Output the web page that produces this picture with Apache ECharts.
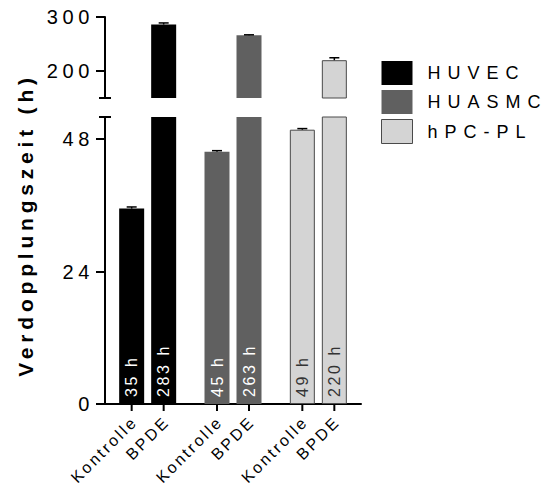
<!DOCTYPE html>
<html>
<head>
<meta charset="utf-8">
<script src="https://cdn.jsdelivr.net/npm/echarts@6/dist/echarts.min.js"></script>
<style>
	body { margin: 0; background: #fff; }
	#main { width: 548px; height: 485px; }
</style>
</head>
<body>
<div id="main"></div>
<script>
// Werte
var groups = ['HUVEC', 'HUASMC', 'hPC-PL'];
var conditions = ['Kontrolle', 'BPDE'];
var kontrolle = [35.4, 45.7, 49.7];
var kontrolleErr = [0.3, 0.2, 0.2];
var bpde = [286, 266, 220];
var bpdeErr = [3, 1, 4.5];
var kontrolleText = ['35 h', '45 h', '49 h'];
var bpdeText = ['283 h', '263 h', '220 h'];
var upperTicks = [200, 300];
var lowerTicks = [0, 24, 48];

var colors = ['#000000', '#606060', '#d4d4d4'];
var labelColors = ['#ffffff', '#ffffff', '#333333'];
var borderColors = ['#000000', '#606060', '#4a4a4a'];
var fontName = '"Liberation Sans", Arial, sans-serif';

var barWidth = 25;
var barGapPx = 7;
var offset = (barWidth + barGapPx) / 2;

// Sperrung der Schrift (wie im Original) je Schriftgroesse
var spacing = {16: 2.6, 18: 7, 20: 4.6, 21: 4.8};

function barData(values, texts) {
	return values.map(function (v, i) {
		return {
			value: v,
			itemStyle: {color: colors[i], borderColor: borderColors[i], borderWidth: i == 2 ? 1 : 0},
			label: {formatter: texts[i], color: labelColors[i]}
		};
	});
}

var errData = [];
for (var i = 0; i < groups.length; i++) {
	errData.push([i, kontrolle[i], kontrolleErr[i], -1]);
	errData.push([i, bpde[i], bpdeErr[i], 1]);
}

var tickData = [];
for (var i = 0; i < groups.length; i++) {
	for (var j = 0; j < conditions.length; j++) {
		tickData.push([i, j]);
	}
}

function renderError(params, api) {
	var cat = api.value(0), mean = api.value(1), err = api.value(2), side = api.value(3);
	var p0 = api.coord([cat, mean]);
	var p1 = api.coord([cat, mean + err]);
	var x = p0[0] + side * offset;
	var st = {stroke: '#000', lineWidth: 1.5};
	return {
		type: 'group',
		children: [
			{type: 'line', shape: {x1: x, y1: p0[1], x2: x, y2: p1[1]}, style: st},
			{type: 'line', shape: {x1: x - 5, y1: p1[1], x2: x + 5, y2: p1[1]}, style: st}
		]
	};
}

function renderTick(params, api) {
	var cat = api.value(0), j = api.value(1);
	var base = api.coord([cat, 0]);
	var x = base[0] + (j == 0 ? -1 : 1) * offset;
	return {
		type: 'group',
		children: [
			{type: 'line', shape: {x1: x, y1: base[1], x2: x, y2: base[1] + 7}, style: {stroke: '#000', lineWidth: 2}},
			{
				type: 'text', x: x + 3, y: base[1] + 15, rotation: Math.PI / 4,
				style: {text: conditions[j], font: '16px ' + fontName, fill: '#000', align: 'right', verticalAlign: 'middle'}
			}
		]
	};
}

// kleiner Querstrich an der Achsenunterbrechung
function breakMark(atTop) {
	return function (params, api) {
		var cs = params.coordSys;
		var y = atTop ? cs.y : cs.y + cs.height;
		return {type: 'line', shape: {x1: cs.x - 6, y1: y, x2: cs.x + 6, y2: y}, style: {stroke: '#000', lineWidth: 2}};
	};
}

function valueAxis(gridIndex, min, max, ticks) {
	return {
		type: 'value', gridIndex: gridIndex, min: min, max: max,
		axisLine: {show: true, lineStyle: {color: '#000', width: 2}},
		axisTick: {show: true, customValues: ticks, length: 9, lineStyle: {color: '#000', width: 2}},
		axisLabel: {customValues: ticks, fontSize: 20, fontFamily: fontName, color: '#000', margin: 11, padding: [5, 0, 0, 0]},
		splitLine: {show: false}
	};
}

function barLabel(show) {
	return {
		show: show, position: 'insideBottom', distance: 7, rotate: 90,
		align: 'left', verticalAlign: 'middle', fontSize: 16, fontFamily: fontName
	};
}

var series = [];
for (var g = 0; g < 2; g++) {
	series.push({
		type: 'bar', name: 'Kontrolle', xAxisIndex: g, yAxisIndex: g,
		barWidth: barWidth, barGap: (barGapPx / barWidth * 100) + '%',
		data: barData(kontrolle, kontrolleText), label: barLabel(g == 1), clip: true
	});
	series.push({
		type: 'bar', name: 'BPDE', xAxisIndex: g, yAxisIndex: g,
		barWidth: barWidth,
		data: barData(bpde, bpdeText), label: barLabel(g == 1), clip: true
	});
	series.push({
		type: 'custom', xAxisIndex: g, yAxisIndex: g, renderItem: renderError,
		data: errData, clip: true, z: 5
	});
	series.push({
		type: 'custom', xAxisIndex: g, yAxisIndex: g, renderItem: breakMark(g == 1),
		data: [[0, 0]], clip: false, z: 5
	});
}
series.push({
	type: 'custom', xAxisIndex: 1, yAxisIndex: 1, renderItem: renderTick,
	data: tickData, clip: false, z: 5
});
// nur fuer die Legende
groups.forEach(function (name, i) {
	series.push({
		type: 'custom', name: name, xAxisIndex: 1, yAxisIndex: 1,
		renderItem: function () { return null; }, data: [],
		itemStyle: {color: colors[i]}
	});
});

var option = {
	animation: false,
	grid: [
		{left: 105, top: 17, width: 256, height: 81, containLabel: false, outerBoundsMode: 'none'},
		{left: 105, top: 117, width: 256, height: 287, containLabel: false, outerBoundsMode: 'none'}
	],
	xAxis: [
		{type: 'category', gridIndex: 0, data: groups, show: false},
		{
			type: 'category', gridIndex: 1, data: groups,
			axisLine: {show: true, lineStyle: {color: '#000', width: 2}},
			axisTick: {show: false}, axisLabel: {show: false}
		}
	],
	yAxis: [
		valueAxis(0, 150, 300, upperTicks),
		valueAxis(1, 0, 52, lowerTicks)
	],
	legend: {
		left: 381, top: 61, orient: 'vertical', padding: 0,
		itemWidth: 31, itemHeight: 24, itemGap: 5, icon: 'rect',
		selectedMode: false,
		textStyle: {fontSize: 18, fontFamily: fontName, color: '#000', padding: [0, 0, 0, 10]},
		data: groups.map(function (name, i) {
			return {name: name, itemStyle: {color: colors[i], borderColor: borderColors[i], borderWidth: i == 2 ? 1 : 0}};
		})
	},
	graphic: [{
		type: 'text', x: 25, y: 225, rotation: Math.PI / 2,
		style: {text: 'Verdopplungszeit (h)', font: 'bold 21px ' + fontName, fill: '#000', align: 'center', verticalAlign: 'middle'}
	}],
	series: series
};

var chart = echarts.init(document.getElementById('main'), null, {renderer: 'svg'});
chart.setOption(option);

function spreadText() {
	var texts = document.querySelectorAll('#main svg text');
	for (var k = 0; k < texts.length; k++) {
		var size = Math.round(parseFloat(getComputedStyle(texts[k]).fontSize));
		if (spacing[size]) {
			texts[k].style.letterSpacing = spacing[size] + 'px';
		}
	}
}
chart.on('finished', spreadText);
spreadText();
</script>
</body>
</html>
